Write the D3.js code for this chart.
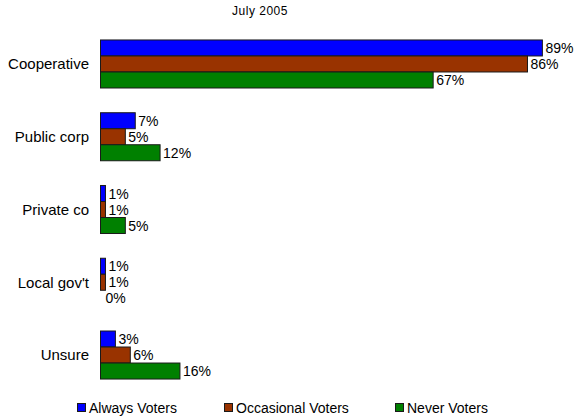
<!DOCTYPE html>
<html>
<head>
<meta charset="utf-8">
<script src="https://cdn.jsdelivr.net/npm/d3@7"></script>
<style>
  html, body { margin: 0; padding: 0; background: #fff; }
  svg { display: block; font-family: "Liberation Sans", Arial, sans-serif; }
</style>
</head>
<body>
<svg id="chart" width="579" height="417"></svg>
<script>
// Survey responses by voter type, July 2005
const title = "July 2005";
const categories = ["Cooperative", "Public corp", "Private co", "Local gov't", "Unsure"];
const seriesNames = ["Always Voters", "Occasional Voters", "Never Voters"];
const alwaysVoters = [89, 7, 1, 1, 3];
const occasionalVoters = [86, 5, 1, 1, 6];
const neverVoters = [67, 12, 5, 0, 16];
const seriesColors = ["#0000ff", "#993300", "#008000"];

const series = [alwaysVoters, occasionalVoters, neverVoters];

const svg = d3.select("#chart");

const x = d3.scaleLinear().domain([0, 100]).range([100.5, 597]);

const y = d3.scaleBand()
  .domain(categories)
  .range([27.6, 391.4])
  .paddingInner(0.34)
  .paddingOuter(0.17);

const ySub = d3.scaleBand()
  .domain(d3.range(seriesNames.length))
  .range([0, y.bandwidth()]);

// Title
svg.append("text")
  .attr("x", 260)
  .attr("y", 15)
  .attr("text-anchor", "middle")
  .attr("font-size", 12)
  .attr("letter-spacing", 0.5)
  .attr("fill", "#000")
  .text(title);

// Category labels
svg.append("g")
  .selectAll("text")
  .data(categories)
  .join("text")
  .attr("x", 89)
  .attr("y", d => y(d) + y.bandwidth() / 2)
  .attr("dy", "0.35em")
  .attr("text-anchor", "end")
  .attr("font-size", 15)
  .attr("fill", "#000")
  .text(d => d);

// Bars and value labels
const groups = svg.append("g")
  .selectAll("g")
  .data(categories)
  .join("g")
  .attr("transform", d => `translate(0,${y(d)})`);

const cells = groups.selectAll("g")
  .data((d, i) => series.map((s, k) => ({ k, v: s[i] })))
  .join("g");

cells.filter(d => d.v > 0)
  .append("rect")
  .attr("x", x(0))
  .attr("y", d => ySub(d.k))
  .attr("width", d => x(d.v) - x(0))
  .attr("height", ySub.bandwidth())
  .attr("fill", d => seriesColors[d.k])
  .attr("stroke", "#1a1a1a")
  .attr("stroke-width", 1);

cells.append("text")
  .attr("x", d => x(d.v) + (d.v === 0 ? 5 : 3))
  .attr("y", d => ySub(d.k) + ySub.bandwidth() / 2)
  .attr("dy", "0.36em")
  .attr("font-size", 14)
  .attr("fill", "#000")
  .text(d => d.v + "%");

// Legend
const legendX = [77, 224, 395];
const legend = svg.append("g")
  .selectAll("g")
  .data(seriesNames)
  .join("g")
  .attr("transform", (d, i) => `translate(${legendX[i]},403)`);

legend.append("rect")
  .attr("x", 0.5)
  .attr("y", 0.5)
  .attr("width", 8)
  .attr("height", 8)
  .attr("fill", (d, i) => seriesColors[i])
  .attr("stroke", "#1a1a1a")
  .attr("stroke-width", 1);

legend.append("text")
  .attr("x", 12)
  .attr("y", 4.5)
  .attr("dy", "0.36em")
  .attr("font-size", 14)
  .attr("fill", "#000")
  .text(d => d);
</script>
</body>
</html>
